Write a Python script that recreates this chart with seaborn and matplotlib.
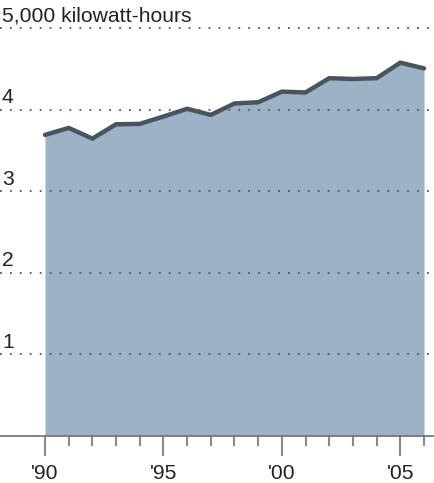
import matplotlib
matplotlib.use("Agg")
import matplotlib.pyplot as plt
import seaborn as sns
import pandas as pd

# ========== Data ==========

years = list(range(1990, 2007))
kwh = [3690, 3775, 3645, 3820, 3825, 3915, 4010, 3935, 4075, 4090,
       4220, 4210, 4385, 4375, 4385, 4575, 4505]
grid_levels = [1000, 2000, 3000, 4000, 5000]
grid_labels = ['1', '2', '3', '4', '5,000 kilowatt-hours']
major_years = [1990, 1995, 2000, 2005]
major_labels = ["'90", "'95", "'00", "'05"]

df = pd.DataFrame({'year': years, 'kwh': kwh})

# ========== Plot ==========

sns.set_style('white')
plt.rcParams['font.family'] = ['Liberation Sans', 'DejaVu Sans']

W, H = 434, 483
fig = plt.figure(figsize=(W / 100, H / 100), dpi=100)
ax = fig.add_axes([0, 47 / H, 1, 436 / H])

ax.fill_between(df['year'], 0, df['kwh'], color='#9bb2c7', lw=0, zorder=2)
sns.lineplot(data=df, x='year', y='kwh', ax=ax, color='#4b545c', lw=3.2,
             zorder=3, solid_joinstyle='miter')

for lvl, lab in zip(grid_levels, grid_labels):
    ax.axhline(lvl, color='#555555', lw=1.3, ls=(0, (1, 4.5)), zorder=4)
    ax.text(2 / W, lvl + 30, lab, transform=ax.get_yaxis_transform(),
            fontsize=15.2, color='#222222', ha='left', va='bottom')

ax.set_xlim(1990 - 45 / 23.69, 2006 + 10 / 23.69)
ax.set_ylim(0, 5343)

ax.set_xticks(major_years)
ax.set_xticklabels(major_labels, fontsize=15.2, color='#222222')
ax.set_xticks(years, minor=True)
ax.tick_params(axis='x', which='major', length=14.4, width=1.5, color='#888888',
               direction='out', pad=6, bottom=True)
ax.tick_params(axis='x', which='minor', length=7.2, width=1.5, color='#888888',
               direction='out', bottom=True)
ax.set_yticks([])
ax.set_xlabel('')
ax.set_ylabel('')

for side in ['top', 'left', 'right']:
    ax.spines[side].set_visible(False)
ax.spines['bottom'].set_color('#777777')
ax.spines['bottom'].set_linewidth(1.3)

fig.savefig('out.png', dpi=100)
